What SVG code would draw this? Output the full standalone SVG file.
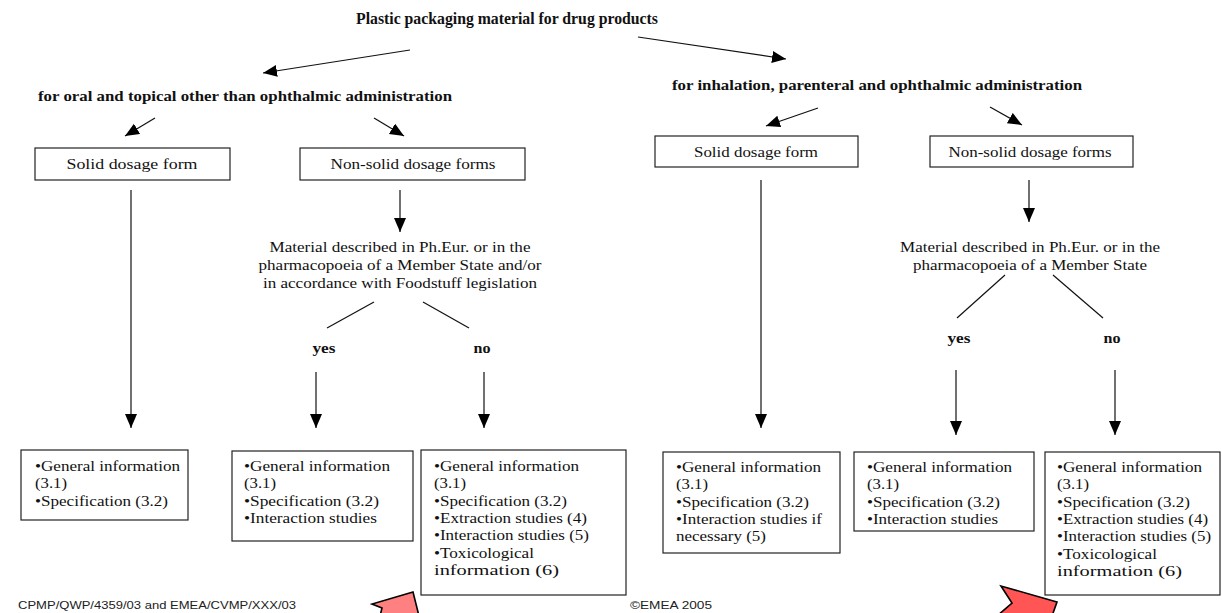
<svg xmlns="http://www.w3.org/2000/svg" width="1222" height="613" viewBox="0 0 1222 613">
<style>
text.t{font-family:'Liberation Serif','DejaVu Serif',serif;fill:#111}
text.b{font-weight:bold}
text.s15{font-size:15px}
text.s14{font-size:14.5px}
text.s16{font-size:16.5px}
text.ft{font-family:'Liberation Sans',Arial,sans-serif;font-size:11.5px;fill:#222}
.box{fill:#fff;stroke:#222;stroke-width:1.2}
.ln{stroke:#111;stroke-width:1.2;fill:none}
.red1{fill:#ff8080;stroke:#000;stroke-width:1.6;stroke-linejoin:miter}
.red2{fill:#ff5555;stroke:#000;stroke-width:1.6;stroke-linejoin:miter}
</style>
<defs>
<marker id="ah" markerUnits="userSpaceOnUse" markerWidth="16" markerHeight="14" refX="14" refY="6" orient="auto">
<path d="M0,0 L14,6 L0,12 Z" fill="#000"/>
</marker>
</defs>
<rect width="1222" height="613" fill="#fff"/>

<g id="connectors">
<line class="ln" x1="410" y1="50" x2="263" y2="73" marker-end="url(#ah)"/>
<line class="ln" x1="638" y1="37" x2="786" y2="59" marker-end="url(#ah)"/>
<line class="ln" x1="155" y1="118" x2="125" y2="136" marker-end="url(#ah)"/>
<line class="ln" x1="374" y1="118" x2="404" y2="136" marker-end="url(#ah)"/>
<line class="ln" x1="818" y1="108" x2="766" y2="126" marker-end="url(#ah)"/>
<line class="ln" x1="990" y1="107" x2="1022" y2="125" marker-end="url(#ah)"/>
<line class="ln" x1="131" y1="190" x2="131" y2="428" marker-end="url(#ah)"/>
<line class="ln" x1="400" y1="190" x2="400" y2="232" marker-end="url(#ah)"/>
<line class="ln" x1="374" y1="302" x2="327" y2="328"/>
<line class="ln" x1="423" y1="302" x2="469" y2="328"/>
<line class="ln" x1="316" y1="372" x2="316" y2="428" marker-end="url(#ah)"/>
<line class="ln" x1="484" y1="372" x2="484" y2="428" marker-end="url(#ah)"/>
<line class="ln" x1="761" y1="180" x2="761" y2="428" marker-end="url(#ah)"/>
<line class="ln" x1="1029" y1="180" x2="1029" y2="222" marker-end="url(#ah)"/>
<line class="ln" x1="1005" y1="275" x2="957" y2="318"/>
<line class="ln" x1="1053" y1="275" x2="1103" y2="318"/>
<line class="ln" x1="956" y1="370" x2="956" y2="435" marker-end="url(#ah)"/>
<line class="ln" x1="1115" y1="370" x2="1115" y2="435" marker-end="url(#ah)"/>
</g>

<g font-family="Liberation Serif, DejaVu Serif, serif">
<g id="title">
<text class="t b s16" x="507" y="24" text-anchor="middle" textLength="302" lengthAdjust="spacingAndGlyphs">Plastic packaging material for drug products</text>
</g>
<g id="oral">
<text class="t b s14" x="38" y="101" textLength="414" lengthAdjust="spacingAndGlyphs">for oral and topical other than ophthalmic administration</text>
</g>
<g id="inhalation">
<text class="t b s14" x="672" y="90" textLength="410" lengthAdjust="spacingAndGlyphs">for inhalation, parenteral and ophthalmic administration</text>
</g>

<g id="solid-left">
<rect class="box" x="35" y="148" width="195" height="32"/>
<text class="t s15" x="132" y="169" text-anchor="middle" textLength="131" lengthAdjust="spacingAndGlyphs">Solid dosage form</text>
</g>
<g id="nonsolid-left">
<rect class="box" x="300" y="148" width="225" height="32"/>
<text class="t s15" x="413" y="169" text-anchor="middle" textLength="165" lengthAdjust="spacingAndGlyphs">Non-solid dosage forms</text>
</g>
<g id="solid-right">
<rect class="box" x="655" y="136" width="203" height="31"/>
<text class="t s15" x="756" y="157" text-anchor="middle" textLength="124" lengthAdjust="spacingAndGlyphs">Solid dosage form</text>
</g>
<g id="nonsolid-right">
<rect class="box" x="930" y="136" width="203" height="31"/>
<text class="t s15" x="1030" y="157" text-anchor="middle" textLength="163" lengthAdjust="spacingAndGlyphs">Non-solid dosage forms</text>
</g>

<g id="material-left">
<text class="t s15" x="400" y="252" text-anchor="middle" textLength="261" lengthAdjust="spacingAndGlyphs">Material described in Ph.Eur. or in the</text>
<text class="t s15" x="400" y="270" text-anchor="middle" textLength="283" lengthAdjust="spacingAndGlyphs">pharmacopoeia of a Member State and/or</text>
<text class="t s15" x="400" y="288" text-anchor="middle" textLength="274" lengthAdjust="spacingAndGlyphs">in accordance with Foodstuff legislation</text>
</g>
<g id="material-right">
<text class="t s15" x="1030" y="252" text-anchor="middle" textLength="260" lengthAdjust="spacingAndGlyphs">Material described in Ph.Eur. or in the</text>
<text class="t s15" x="1030" y="270" text-anchor="middle" textLength="234" lengthAdjust="spacingAndGlyphs">pharmacopoeia of a Member State</text>
</g>

<g id="yes-left"><text class="t b s14" x="324" y="353" text-anchor="middle" textLength="23" lengthAdjust="spacingAndGlyphs">yes</text></g>
<g id="no-left"><text class="t b s14" x="482" y="353" text-anchor="middle" textLength="17" lengthAdjust="spacingAndGlyphs">no</text></g>
<g id="yes-right"><text class="t b s14" x="959" y="343" text-anchor="middle" textLength="23" lengthAdjust="spacingAndGlyphs">yes</text></g>
<g id="no-right"><text class="t b s14" x="1112" y="343" text-anchor="middle" textLength="17" lengthAdjust="spacingAndGlyphs">no</text></g>

<g id="result-1">
<rect class="box" x="21" y="450" width="167" height="70"/>
<text class="t s15" x="35" y="471" textLength="145" lengthAdjust="spacingAndGlyphs">•General information</text>
<text class="t s15" x="35" y="488.3" textLength="32" lengthAdjust="spacingAndGlyphs">(3.1)</text>
<text class="t s15" x="35" y="505.6" textLength="133" lengthAdjust="spacingAndGlyphs">•Specification (3.2)</text>
</g>
<g id="result-2">
<rect class="box" x="232" y="451" width="181" height="90"/>
<text class="t s15" x="244" y="471" textLength="146" lengthAdjust="spacingAndGlyphs">•General information</text>
<text class="t s15" x="244" y="488.3" textLength="32" lengthAdjust="spacingAndGlyphs">(3.1)</text>
<text class="t s15" x="244" y="505.6" textLength="135" lengthAdjust="spacingAndGlyphs">•Specification (3.2)</text>
<text class="t s15" x="244" y="523" textLength="133" lengthAdjust="spacingAndGlyphs">•Interaction studies</text>
</g>
<g id="result-3">
<rect class="box" x="421" y="450" width="205" height="145"/>
<text class="t s15" x="434" y="471" textLength="145" lengthAdjust="spacingAndGlyphs">•General information</text>
<text class="t s15" x="434" y="488.3" textLength="32" lengthAdjust="spacingAndGlyphs">(3.1)</text>
<text class="t s15" x="434" y="505.6" textLength="133" lengthAdjust="spacingAndGlyphs">•Specification (3.2)</text>
<text class="t s15" x="434" y="523" textLength="153" lengthAdjust="spacingAndGlyphs">•Extraction studies (4)</text>
<text class="t s15" x="434" y="540.2" textLength="155" lengthAdjust="spacingAndGlyphs">•Interaction studies (5)</text>
<text class="t s15" x="434" y="557.5" textLength="100" lengthAdjust="spacingAndGlyphs">•Toxicological</text>
<text class="t s15" x="434" y="574.8" textLength="125" lengthAdjust="spacingAndGlyphs">information (6)</text>
</g>
<g id="result-4">
<rect class="box" x="663" y="452" width="177" height="101"/>
<text class="t s15" x="676" y="472" textLength="145" lengthAdjust="spacingAndGlyphs">•General information</text>
<text class="t s15" x="676" y="489.3" textLength="32" lengthAdjust="spacingAndGlyphs">(3.1)</text>
<text class="t s15" x="676" y="506.6" textLength="133" lengthAdjust="spacingAndGlyphs">•Specification (3.2)</text>
<text class="t s15" x="676" y="524" textLength="146" lengthAdjust="spacingAndGlyphs">•Interaction studies if</text>
<text class="t s15" x="676" y="541.2" textLength="90" lengthAdjust="spacingAndGlyphs">necessary (5)</text>
</g>
<g id="result-5">
<rect class="box" x="854" y="452" width="180" height="79"/>
<text class="t s15" x="867" y="472" textLength="145" lengthAdjust="spacingAndGlyphs">•General information</text>
<text class="t s15" x="867" y="489.3" textLength="32" lengthAdjust="spacingAndGlyphs">(3.1)</text>
<text class="t s15" x="867" y="506.6" textLength="133" lengthAdjust="spacingAndGlyphs">•Specification (3.2)</text>
<text class="t s15" x="867" y="524" textLength="131" lengthAdjust="spacingAndGlyphs">•Interaction studies</text>
</g>
<g id="result-6">
<rect class="box" x="1045" y="452" width="175" height="143"/>
<text class="t s15" x="1057" y="472" textLength="145" lengthAdjust="spacingAndGlyphs">•General information</text>
<text class="t s15" x="1057" y="489.3" textLength="32" lengthAdjust="spacingAndGlyphs">(3.1)</text>
<text class="t s15" x="1057" y="506.6" textLength="133" lengthAdjust="spacingAndGlyphs">•Specification (3.2)</text>
<text class="t s15" x="1057" y="524" textLength="151" lengthAdjust="spacingAndGlyphs">•Extraction studies (4)</text>
<text class="t s15" x="1057" y="541.2" textLength="154" lengthAdjust="spacingAndGlyphs">•Interaction studies (5)</text>
<text class="t s15" x="1057" y="558.5" textLength="100" lengthAdjust="spacingAndGlyphs">•Toxicological</text>
<text class="t s15" x="1057" y="575.8" textLength="125" lengthAdjust="spacingAndGlyphs">information (6)</text>
</g>
</g>

<g id="red-arrow-left">
<polygon class="red1" points="380,616 382,608 372,604 413,592 419,616"/>
</g>
<g id="red-arrow-right">
<polygon class="red2" points="997,616 1012,603 1001,586 1057,602 1052,616"/>
</g>

<g id="footer">
<text class="ft" x="18" y="609" textLength="278" lengthAdjust="spacingAndGlyphs">CPMP/QWP/4359/03 and EMEA/CVMP/XXX/03</text>
<text class="ft" x="630" y="609" textLength="82" lengthAdjust="spacingAndGlyphs">©EMEA 2005</text>
</g>
</svg>
